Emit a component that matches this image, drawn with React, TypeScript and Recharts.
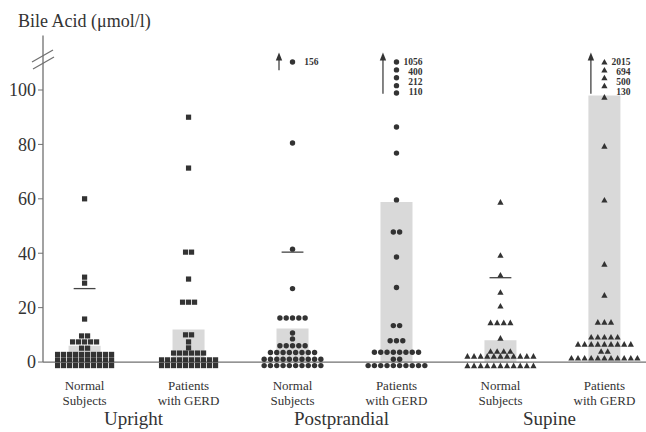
import React from "react";
import {
  ComposedChart,
  Scatter,
  XAxis,
  YAxis,
  ReferenceArea,
  ReferenceLine,
} from "recharts";

const INK = "#333333";
const AXIS = "#707070";
const SHADE = "#d9d9d9";
const FONT = "'Liberation Serif', serif";

const periods = ["Upright", "Postprandial", "Supine"];
const subjectLabels = [
  ["Normal", "Subjects"],
  ["Patients", "with GERD"],
];
const yTicks = [0, 20, 40, 60, 80, 100];

// bile acid per subject (µmol/l)
const uprightNormal = [
  60, 31.2, 29, 15.8, 9.6, 9.6, 7.4, 7.4, 7.4, 7.4, 7.4, 5.1, 5.1,
  2.8, 2.8, 2.8, 2.8, 2.8, 2.8, 2.8, 2.8, 2.8, 2.8,
  0.8, 0.8, 0.8, 0.8, 0.8, 0.8, 0.8, 0.8, 0.8, 0.8,
  0, 0, 0, 0, 0, 0, 0, 0, 0, 0,
];
const uprightGerd = [
  90, 71.3, 40.4, 40.4, 30.5, 22, 22, 22, 10, 10, 7.4, 5.2,
  3.3, 3.3, 3.3, 3.3, 3.3, 3.3,
  0.8, 0.8, 0.8, 0.8, 0.8, 0.8, 0.8, 0.8, 0.8, 0.8,
  0, 0, 0, 0, 0, 0, 0, 0, 0, 0,
];
const postNormal = [
  156, 80.5, 41.5, 27, 16.2, 16.2, 16.2, 16.2, 16.2, 10.7, 8.5,
  6, 6, 6, 6, 6,
  3.5, 3.5, 3.5, 3.5, 3.5, 3.5, 3.5, 3.5,
  1, 1, 1, 1, 1, 1, 1, 1, 1, 1,
  0, 0, 0, 0, 0, 0, 0, 0, 0, 0,
];
const postGerd = [
  1056, 400, 212, 110, 98.9, 86.4, 76.8, 59.6, 47.8, 47.8, 38.6, 27.4,
  13.4, 13.4, 7.8, 7.8, 7.8,
  3.6, 3.6, 3.6, 3.6, 3.6, 3.6, 3.6, 3.6,
  1, 1,
  0, 0, 0, 0, 0, 0, 0, 0, 0, 0,
];
const supineNormal = [
  58.8, 39.3, 32, 25.7, 20.6, 14.5, 14.5, 14.5, 14.5, 8.8,
  4, 4, 4, 4,
  2.2, 2.2, 2.2, 2.2, 2.2, 2.2, 2.2, 2.2, 2.2, 2.2, 2.2,
  0, 0, 0, 0, 0, 0, 0, 0, 0, 0, 0,
];
const supineGerd = [
  2015, 694, 500, 130, 97.4, 79.4, 59.6, 36, 24.6, 14.7, 14.7, 14.7,
  9.2, 9.2, 9.2, 9.2, 9.2,
  6.6, 6.6, 6.6, 6.6, 6.6, 6.6, 6.6, 6.6, 6.6,
  4, 4,
  1.5, 1.5, 1.5, 1.5, 1.5, 1.5, 1.5, 1.5, 1.5, 1.5, 1.5,
];

const medians = [6, 12, 12.3, 58.8, 8, 98];
const upper95 = [27, null, 40.4, null, 31, null];

const groupValues = [uprightNormal, uprightGerd, postNormal, postGerd, supineNormal, supineGerd];

// x axis runs in category steps
const X_MIN = -0.4;
const X_MAX = 5.4;
const PLOT_W = 603;
const PX_PER_STEP = PLOT_W / (X_MAX - X_MIN);
const PX_PER_UNIT = 2.72; // y pixels per µmol/l
const ZERO_ROW = -1.3; // zero values sit one row under the baseline
const OFF_TOP = 110.3; // off-scale values stack above the axis break
const OFF_STEP = 2.9;
const LABEL_PITCH = 10; // px between stacked off-scale labels
const PITCH = [6, 6.3, 6.6]; // marker pitch in px per period

type Pt = { x: number; y: number; value: number; rank: number; label?: string };

function layoutGroup(values: number[], g: number): Pt[] {
  const pitch = PITCH[Math.floor(g / 2)] / PX_PER_STEP;
  const high = values.filter((v) => v > 100).sort((a, b) => b - a);
  const rows = new Map<number, number[]>();
  values.forEach((v) => {
    const y = v > 100 ? OFF_TOP - OFF_STEP * high.indexOf(v) : v === 0 ? ZERO_ROW : v;
    if (!rows.has(y)) rows.set(y, []);
    rows.get(y)!.push(v);
  });
  const pts: Pt[] = [];
  rows.forEach((vs, y) => {
    vs.forEach((v, k) => {
      pts.push({
        x: g + (k - (vs.length - 1) / 2) * pitch,
        y,
        value: v,
        rank: high.indexOf(v),
        label: v > 100 ? String(v) : undefined,
      });
    });
  });
  return pts;
}

const groupPoints = groupValues.map((vals, g) => layoutGroup(vals, g));

const offLabel = (p: any) => {
  if (!p.payload.label) return null;
  const r = p.payload.rank;
  const dy = 3.5 + r * (LABEL_PITCH - OFF_STEP * PX_PER_UNIT);
  return (
    <text
      x={p.cx + 26}
      y={p.cy + dy}
      textAnchor="end"
      fontFamily={FONT}
      fontSize={9.5}
      fontWeight="bold"
      fill={INK}
    >
      {p.payload.label}
    </text>
  );
};

const SquareDot = (p: any) => (
  <g>
    <rect x={p.cx - 2.6} y={p.cy - 2.6} width={5.2} height={5.2} fill={INK} />
    {offLabel(p)}
  </g>
);

const RoundDot = (p: any) => (
  <g>
    <circle cx={p.cx} cy={p.cy} r={2.7} fill={INK} />
    {offLabel(p)}
  </g>
);

const TriDot = (p: any) => (
  <g>
    <polygon
      points={`${p.cx},${p.cy - 3} ${p.cx - 3.1},${p.cy + 2.6} ${p.cx + 3.1},${p.cy + 2.6}`}
      fill={INK}
    />
    {offLabel(p)}
  </g>
);

const shapes = [SquareDot, RoundDot, TriDot];

const Arrow = (p: any) => (
  <g>
    <line x1={p.x1} y1={p.y1} x2={p.x2} y2={p.y2 + 6} stroke={INK} strokeWidth={1.2} />
    <polygon
      points={`${p.x2},${p.y2} ${p.x2 - 3.2},${p.y2 + 8} ${p.x2 + 3.2},${p.y2 + 8}`}
      fill={INK}
    />
  </g>
);

// two-line subject label under each column; the period name sits under each pair
const SubjectTick = ({ x, y, payload }: any) => {
  const idx = Math.round(payload.value);
  const [a, b] = subjectLabels[idx % 2];
  return (
    <g>
      <text x={x} y={y + 20} textAnchor="middle" fontFamily={FONT} fontSize={13} fill={INK}>
        {a}
      </text>
      <text x={x} y={y + 34.5} textAnchor="middle" fontFamily={FONT} fontSize={13} fill={INK}>
        {b}
      </text>
      {idx % 2 === 1 && (
        <text
          x={x - PX_PER_STEP / 2 - 3}
          y={y + 55}
          textAnchor="middle"
          fontFamily={FONT}
          fontSize={19}
          fill={INK}
        >
          {periods[Math.floor(idx / 2)]}
        </text>
      )}
    </g>
  );
};

const AxisTitle = (props: any) => {
  const vb = props.viewBox;
  return (
    <g>
      <text x={vb.x + 18} y={vb.y - 8.6} fontFamily={FONT} fontSize={18} fill={INK}>
        Bile Acid (μmol/l)
      </text>
      <line x1={vb.x + 32} y1={vb.y + 26.4} x2={vb.x + 53} y2={vb.y + 14.4} stroke={AXIS} strokeWidth={1.2} />
      <line x1={vb.x + 33} y1={vb.y + 33.4} x2={vb.x + 54} y2={vb.y + 21.4} stroke={AXIS} strokeWidth={1.2} />
    </g>
  );
};

export default function App() {
  return (
    <div style={{ position: "absolute", left: 0, top: 0, width: 646, height: 432, background: "#fff" }}>
      <ComposedChart
        width={646}
        height={432}
        margin={{ top: 35.6, right: 0, bottom: 0, left: 0 }}
      >
        <XAxis
          dataKey="x"
          type="number"
          domain={[X_MIN, X_MAX]}
          ticks={[0, 1, 2, 3, 4, 5]}
          axisLine={false}
          tickLine={false}
          tickSize={0}
          tickMargin={0}
          height={61.8}
          tick={<SubjectTick />}
          interval={0}
        />
        <YAxis
          dataKey="y"
          type="number"
          domain={[-3, 120]}
          ticks={yTicks}
          width={43}
          axisLine={false}
          tickSize={5}
          tickMargin={2}
          tickLine={{ stroke: AXIS }}
          tick={{ fill: INK, fontSize: 18, fontFamily: FONT }}
          interval={0}
          label={{ content: AxisTitle }}
        />

        {medians.map((m, g) => (
          <ReferenceArea
            key={`med-${g}`}
            x1={g - 0.154}
            x2={g + 0.154}
            y1={0}
            y2={m}
            fill={SHADE}
            fillOpacity={1}
            stroke="none"
          />
        ))}

        {upper95.map((p, g) =>
          p == null ? null : (
            <ReferenceLine
              key={`p95-${g}`}
              segment={[
                { x: g - 0.105, y: p },
                { x: g + 0.105, y: p },
              ]}
              stroke="#444"
              strokeWidth={1.3}
            />
          )
        )}

        <ReferenceLine y={0} stroke={AXIS} strokeWidth={1.3} />
        <ReferenceLine
          segment={[
            { x: X_MIN, y: 0 },
            { x: X_MIN, y: 120 },
          ]}
          stroke={AXIS}
          strokeWidth={1.3}
        />

        {groupPoints.map((pts, g) => {
          const high = pts.filter((p) => p.value > 100);
          if (!high.length) return null;
          const low = Math.min(...high.map((p) => p.y));
          return (
            <ReferenceLine
              key={`arrow-${g}`}
              segment={[
                { x: g - 0.13, y: low - 3 },
                { x: g - 0.13, y: 113.8 },
              ]}
              shape={Arrow}
            />
          );
        })}

        {groupPoints.map((pts, g) => (
          <Scatter
            key={`grp-${g}`}
            data={pts}
            dataKey="y"
            shape={shapes[Math.floor(g / 2)]}
            isAnimationActive={false}
          />
        ))}
      </ComposedChart>
    </div>
  );
}
